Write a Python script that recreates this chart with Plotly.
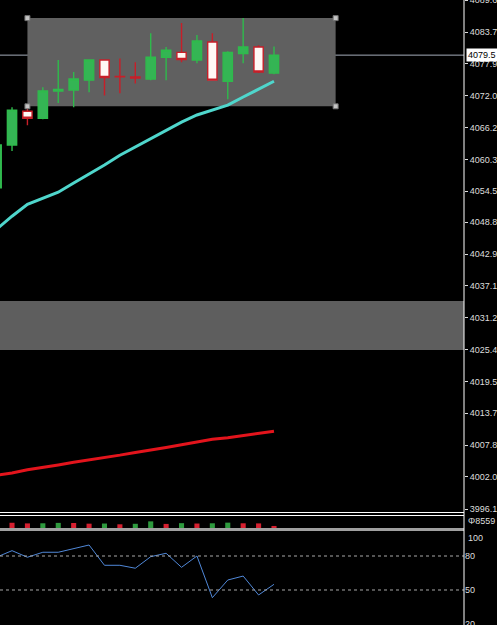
import plotly.graph_objects as go

# bar number (0 = the bar cut by the left edge)
bar_no = list(range(19))

opens = [4055.1, 4063.0, 4069.2, 4067.9, 4072.9, 4073.1, 4074.9, 4078.6, 4075.6, 4075.5,
         4075.1, 4079.1, 4080.0, 4078.6, 4081.9, 4074.7, 4079.8, 4081.0, 4076.2]
highs = [4063.3, 4069.9, 4070.3, 4073.6, 4078.6, 4076.4, 4078.7, 4078.7, 4078.9, 4078.2,
         4083.5, 4081.0, 4085.4, 4083.2, 4083.5, 4080.2, 4086.3, 4081.3, 4081.1]
lows = [4054.7, 4061.9, 4066.6, 4067.7, 4070.7, 4069.9, 4072.7, 4072.1, 4072.5, 4074.3,
        4074.9, 4074.9, 4078.2, 4078.0, 4074.8, 4071.4, 4078.0, 4076.2, 4076.0]
closes = [4063.0, 4069.4, 4067.9, 4072.9, 4073.2, 4075.1, 4078.6, 4075.4, 4075.5, 4075.3,
          4079.1, 4080.4, 4078.7, 4082.1, 4074.9, 4080.0, 4081.0, 4076.4, 4079.5]

ma_fast = [4047.5, 4049.9, 4052.1, 4053.2, 4054.3, 4056.0, 4057.6, 4059.3, 4061.1, 4062.6,
           4064.1, 4065.7, 4067.2, 4068.5, 4069.4, 4070.3, 4071.8, 4073.2, 4074.7]
ma_slow = [4002.3, 4002.7, 4003.3, 4003.7, 4004.2, 4004.7, 4005.1, 4005.6, 4006.0, 4006.5,
           4006.9, 4007.4, 4007.9, 4008.4, 4008.9, 4009.2, 4009.6, 4010.1, 4010.4]

volumes = [4300, 4100, 3600, 3700, 4000, 3900, 3400, 3500, 2900, 3300,
           5200, 3200, 3800, 3500, 3700, 4200, 3700, 3600, 1600]

rsi = [79.0, 84.7, 78.9, 83.3, 83.3, 86.2, 89.7, 71.8, 71.8, 69.2,
       79.4, 82.4, 70.0, 80.0, 43.2, 58.8, 62.3, 45.6, 55.0]

price_ticks = [4089.6, 4083.7, 4077.9, 4072.0, 4066.2, 4060.3, 4054.5, 4048.8, 4042.9,
               4037.1, 4031.2, 4025.4, 4019.5, 4013.7, 4007.8, 4002.0, 3996.1]
rsi_ticks = [80, 50, 20]
rsi_levels = [80, 50]
last_price = 4079.5
vol_label = "Φ8559"

box_x = [2, 22]
box_y = [4070.1, 4086.3]
band_y = [4025.3, 4034.3]

W, H = 497, 625
XR = 464 / W          # right edge of the plot windows
TICKFONT = dict(family="Liberation Sans", size=9, color="#dddddd")


def py(px):
    # pixel row -> paper fraction
    return 1 - px / H


# volumes are green when higher than the bar before
vol_colors = ['#d62030'] + ['#2e9a3e' if volumes[i] > volumes[i - 1] else '#d62030'
                            for i in range(1, len(volumes))]

fig = go.Figure()

fig.add_trace(go.Candlestick(
    x=bar_no, open=opens, high=highs, low=lows, close=closes,
    increasing=dict(line=dict(color='#2fba4c', width=1.4), fillcolor='#34b554'),
    decreasing=dict(line=dict(color='#c81e28', width=1.4), fillcolor='#fff8f5'),
    hoverinfo='skip', showlegend=False))

fig.add_trace(go.Scatter(x=bar_no, y=ma_fast, mode='lines',
                         line=dict(color='#4fd6cc', width=3), showlegend=False))
fig.add_trace(go.Scatter(x=bar_no, y=ma_slow, mode='lines',
                         line=dict(color='#e3141c', width=3), showlegend=False))

# handles of the selected rectangle
fig.add_trace(go.Scatter(x=[box_x[0], box_x[1], box_x[0], box_x[1]],
                         y=[box_y[0], box_y[0], box_y[1], box_y[1]],
                         mode='markers',
                         marker=dict(symbol='square', size=5, color='#c4c4c4',
                                     line=dict(color='#707070', width=1)),
                         showlegend=False))

fig.add_trace(go.Bar(x=bar_no, y=volumes, marker_color=vol_colors, marker_line_width=0,
                     width=0.33, xaxis='x2', yaxis='y2', showlegend=False))

fig.add_trace(go.Scatter(x=bar_no, y=rsi, mode='lines', line=dict(color='#5088d8', width=1),
                         xaxis='x3', yaxis='y3', showlegend=False))

# rectangle, band and current price line
fig.add_shape(type='rect', xref='x', yref='y', x0=box_x[0], x1=box_x[1],
              y0=box_y[0], y1=box_y[1], fillcolor='#606060', line_width=0, layer='below')
fig.add_shape(type='rect', xref='paper', yref='y', x0=0, x1=XR,
              y0=band_y[0], y1=band_y[1], fillcolor='#5e5e5e', line_width=0, layer='below')
fig.add_shape(type='line', xref='paper', yref='y', x0=0, x1=XR, y0=last_price, y1=last_price,
              line=dict(color='#a4acba', width=1), layer='below')

for lvl in rsi_levels:
    fig.add_shape(type='line', xref='paper', yref='y3', x0=0, x1=XR, y0=lvl, y1=lvl,
                  line=dict(color='#a8a8a8', width=1, dash='dot'))

# window borders
for row in [512.5, 515.5]:
    fig.add_shape(type='line', xref='paper', yref='paper', x0=0, x1=XR, y0=py(row), y1=py(row),
                  line=dict(color='white', width=1))
fig.add_shape(type='rect', xref='paper', yref='paper', x0=0, x1=XR, y0=py(531), y1=py(528),
              fillcolor='#a0a0a0', line_width=0)
fig.add_shape(type='line', xref='paper', yref='paper', x0=XR, x1=XR, y0=0, y1=1,
              line=dict(color='white', width=1))

fig.add_annotation(x=466 / W, xref='paper', y=last_price, yref='y', xanchor='left',
                   yanchor='middle', text=str(last_price), showarrow=False,
                   bgcolor='white', borderpad=1,
                   font=dict(family="Liberation Sans", size=9, color='black'))
fig.add_annotation(x=466 / W, xref='paper', y=py(521), yref='paper', xanchor='left',
                   yanchor='middle', text=vol_label, showarrow=False, font=TICKFONT)
fig.add_annotation(x=466 / W, xref='paper', y=py(538), yref='paper', xanchor='left',
                   yanchor='middle', text='100', showarrow=False, font=TICKFONT)

fig.update_layout(
    width=W, height=H,
    margin=dict(l=0, r=0, t=0, b=0, autoexpand=False),
    paper_bgcolor='black', plot_bgcolor='black',
    showlegend=False,
    boxgap=0.14,
    xaxis=dict(domain=[0, XR], range=[0.22, 30.33], visible=False,
               rangeslider=dict(visible=False), anchor='y'),
    xaxis2=dict(domain=[0, XR], matches='x', visible=False, anchor='y2'),
    xaxis3=dict(domain=[0, XR], matches='x', visible=False, anchor='y3'),
    yaxis=dict(domain=[py(512), 1], range=[3995.55, 4089.63], side='right', anchor='x',
               tickvals=price_ticks, ticktext=['%.1f' % v for v in price_ticks],
               ticks='outside', ticklen=3, tickcolor='#dddddd', tickfont=TICKFONT,
               ticklabeloverflow='allow', automargin=False, showgrid=False, zeroline=False),
    yaxis2=dict(domain=[py(528), py(516)], range=[0, 9400], anchor='x2',
                showticklabels=False, showgrid=False, zeroline=False),
    yaxis3=dict(domain=[0, py(531)], range=[19.1, 102.06], side='right', anchor='x3',
                tickvals=rsi_ticks, ticks='', tickfont=TICKFONT,
                ticklabeloverflow='allow', automargin=False, showgrid=False, zeroline=False),
)

# the page's default body margin would push the chart 8px in
fig.write_html("out.html", config={'displayModeBar': False},
               post_script="document.body.style.margin='0';")
